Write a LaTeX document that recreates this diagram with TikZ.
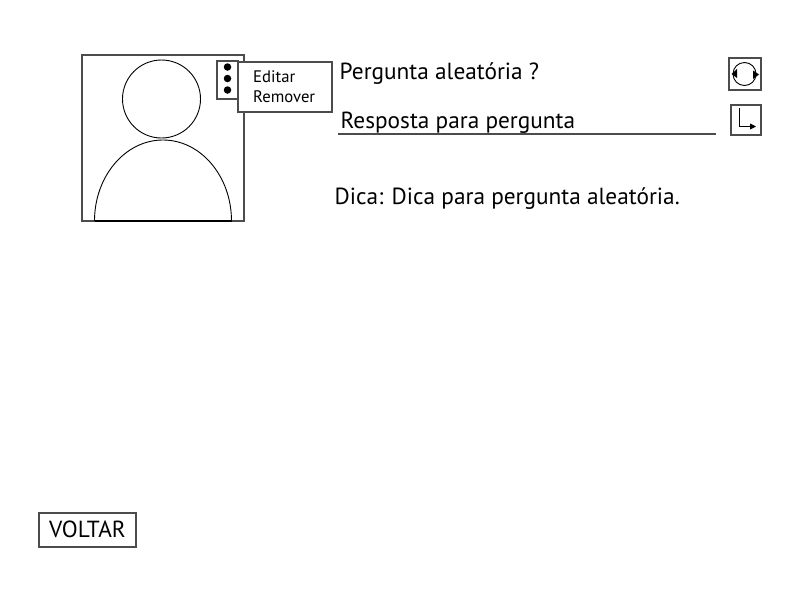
\documentclass[tikz,border=0pt]{standalone}
\usepackage{fontspec}
\setmainfont{PT Sans}
\usetikzlibrary{arrows.meta}
\tikzset{
  box/.style={draw=black!70,line width=1.1pt,fill=white,inner sep=0pt},
  label/.style={inner sep=0pt,anchor=base west,text=black},
  bigtext/.style={label,font=\fontsize{23.3}{26}\selectfont},
  smalltext/.style={label,font=\fontsize{16.7}{18}\selectfont},
  dot/.style={circle,fill=black,inner sep=0pt,minimum size=7.5pt},
  tip/.style={-{Triangle[length=6pt,width=6pt]}}
}
\begin{document}
\begin{tikzpicture}[x=1pt,y=-1pt]
  \useasboundingbox (0,0) rectangle (800,600);
  \node[box,minimum width=162pt,minimum height=166pt] (frame) at (163,138) {};
  \node[circle,draw,line width=0.9pt,inner sep=0pt,minimum size=78pt] (head) at (161.5,99) {};
  \draw[line width=0.9pt] (94.5,221) coordinate (bodyleft) arc[start angle=180,end angle=360,x radius=68.5,y radius=81] coordinate (bodyright);
  \draw[line width=1.1pt] (bodyleft) -- (bodyright);
  \node[box,minimum width=21pt,minimum height=38pt] (menu) at (227.5,80) {};
  \node[dot] (dot1) at (227.5,67) {};
  \node[dot] (dot2) at (227.5,78.5) {};
  \node[dot] (dot3) at (227.5,90) {};
  \node[box,minimum width=94pt,minimum height=50pt] (popup) at (285,87) {};
  \node[smalltext] (editar) at (253,82) {Editar};
  \node[smalltext] (remover) at (253,102) {Remover};
  \node[bigtext] (pergunta) at (339.5,79) {Pergunta aleatória ?};
  \node[bigtext] (resposta) at (340.5,128.5) {Resposta para pergunta};
  \node[bigtext] (dica) at (334.5,204) {Dica: Dica para pergunta aleatória.};
  \coordinate (linestart) at (338,134);
  \coordinate (lineend) at (716,134);
  \draw[draw=black!70,line width=1.1pt] (linestart) -- (lineend);
  \node[box,minimum width=32pt,minimum height=32pt] (reload) at (745,74) {};
  \node[circle,draw,line width=0.9pt,inner sep=0pt,minimum size=23pt] (reloadring) at (744.5,74) {};
  \fill (731.5,74) -- (737,69) -- (737,78) -- cycle;
  \fill (759,74.5) -- (753,70.5) -- (753,79) -- cycle;
  \node[box,minimum width=30pt,minimum height=30pt] (enter) at (746,120) {};
  \coordinate (entertop) at (739.5,108);
  \coordinate (entercorner) at (739.5,126.5);
  \coordinate (enterend) at (756,126.5);
  \draw[tip,line width=0.9pt] (entertop) -- (entercorner) -- (enterend);
  \node[box,minimum width=97pt,minimum height=34pt] (voltar) at (87.5,530) {};
  \node[bigtext] (voltartext) at (49,537.5) {VOLTAR};
\end{tikzpicture}
\end{document}
